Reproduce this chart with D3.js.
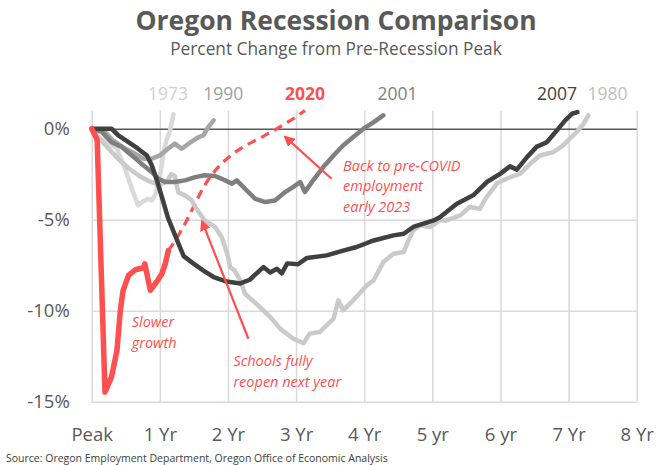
<!DOCTYPE html>
<html>
<head>
<meta charset="utf-8">
<script src="https://cdn.jsdelivr.net/npm/d3@7"></script>
<style>
  body { margin: 0; background: #fff; }
  svg { display: block; font-family: "Open Sans", sans-serif; }
</style>
</head>
<body>
<div id="chart"></div>
<script>
// [years since pre-recession peak, % change from peak]
var r1973 = [[0,0],[0.1,-0.45],[0.22,-0.74],[0.37,-1.1],[0.49,-2.2],[0.59,-3.3],[0.68,-4.2],[0.75,-4.0],[0.83,-3.85],[0.88,-3.95],[0.93,-3.66],[0.98,-3.0],[1.02,-2.2],[1.06,-1.2],[1.1,-0.6],[1.15,-0.1],[1.2,0.8]];
var r1980 = [[0,0],[0.1,-0.5],[0.25,-1.1],[0.4,-1.7],[0.55,-2.2],[0.7,-2.6],[0.85,-2.9],[1.0,-3.1],[1.1,-2.9],[1.17,-2.5],[1.22,-2.6],[1.27,-3.5],[1.37,-3.66],[1.47,-3.94],[1.52,-4.3],[1.66,-5.04],[1.81,-5.4],[1.91,-5.96],[2.0,-7.0],[2.03,-7.6],[2.1,-7.8],[2.18,-8.33],[2.25,-9.07],[2.47,-9.8],[2.62,-10.35],[2.77,-11.0],[2.96,-11.54],[3.11,-11.78],[3.2,-11.26],[3.35,-11.17],[3.45,-10.8],[3.55,-10.44],[3.62,-9.43],[3.69,-9.98],[3.84,-9.43],[4.04,-8.6],[4.14,-8.33],[4.28,-7.33],[4.43,-6.87],[4.58,-6.78],[4.65,-6.14],[4.72,-5.59],[4.82,-5.31],[4.97,-5.4],[5.11,-5.04],[5.21,-5.04],[5.41,-4.76],[5.55,-4.3],[5.7,-4.4],[5.78,-3.85],[5.95,-3.0],[6.09,-2.75],[6.29,-2.47],[6.44,-1.92],[6.58,-1.47],[6.78,-1.28],[6.92,-0.92],[7.02,-0.55],[7.12,-0.18],[7.22,0.27],[7.29,0.73]];
var r1990 = [[0,0],[0.1,-0.1],[0.2,-0.2],[0.3,-0.6],[0.45,-1.0],[0.59,-1.28],[0.76,-1.65],[0.88,-1.65],[1.0,-1.47],[1.12,-1.1],[1.22,-0.82],[1.32,-1.1],[1.47,-0.7],[1.57,-0.46],[1.64,-0.37],[1.71,0.09],[1.79,0.46]];
var r2001 = [[0,0],[0.15,-0.18],[0.29,-0.74],[0.44,-1.0],[0.59,-1.47],[0.73,-1.92],[0.88,-2.38],[0.98,-2.75],[1.08,-2.93],[1.22,-2.93],[1.37,-2.84],[1.52,-2.66],[1.66,-2.56],[1.81,-2.6],[1.96,-2.84],[2.06,-3.02],[2.13,-2.84],[2.25,-3.3],[2.4,-3.85],[2.55,-4.03],[2.69,-3.94],[2.84,-3.48],[2.96,-3.2],[3.06,-2.93],[3.13,-3.48],[3.25,-2.84],[3.4,-2.11],[3.55,-1.47],[3.69,-0.92],[3.84,-0.46],[3.99,0],[4.14,0.36],[4.28,0.73]];
var r2007 = [[0,0],[0.29,0],[0.39,-0.37],[0.54,-0.74],[0.68,-1.1],[0.81,-1.47],[0.88,-2.0],[0.95,-2.75],[1.05,-4.0],[1.12,-4.9],[1.25,-6.1],[1.35,-7.0],[1.49,-7.4],[1.64,-7.8],[1.79,-8.15],[1.98,-8.4],[2.18,-8.5],[2.32,-8.3],[2.52,-7.6],[2.62,-7.9],[2.72,-7.7],[2.79,-7.95],[2.87,-7.4],[3.03,-7.45],[3.16,-7.1],[3.45,-6.96],[3.69,-6.7],[3.89,-6.5],[4.14,-6.14],[4.43,-5.86],[4.58,-5.77],[4.72,-5.4],[5.02,-5.04],[5.11,-4.86],[5.36,-4.12],[5.6,-3.66],[5.8,-2.93],[6.0,-2.47],[6.14,-2.07],[6.24,-2.25],[6.39,-1.56],[6.53,-1.0],[6.68,-0.74],[6.83,-0.09],[6.95,0.46],[7.05,0.82],[7.13,0.91]];
var r2020 = [[0,0],[0.08,-0.6],[0.195,-14.47],[0.29,-13.65],[0.37,-12.2],[0.42,-10.0],[0.46,-8.9],[0.54,-8.06],[0.64,-7.75],[0.76,-7.64],[0.78,-7.42],[0.86,-8.88],[0.95,-8.43],[1.03,-7.97],[1.08,-7.42],[1.125,-6.7]];
var r2020proj = [[1.125,-6.7],[1.25,-6.0],[1.4,-5.0],[1.52,-4.1],[1.66,-3.1],[1.86,-2.1],[2.05,-1.45],[2.25,-0.95],[2.45,-0.55],[2.65,-0.15],[2.85,0.3],[3.0,0.65],[3.13,1.0]];

var seriesNames = ["1973", "1980", "1990", "2001", "2007", "2020"];
var seriesColors = ["#d9d9d9", "#cacaca", "#a6a6a6", "#7f7f7f", "#404040", "#ff4f4f"];
var labelColors = ["#d0d0d0", "#bfbfbf", "#a0a0a0", "#808080", "#404040", "#ff4f4f"];
var labelYears = [1.12, 7.57, 1.93, 4.49, 6.83, 3.13];

var xTicks = [0, 1, 2, 3, 4, 5, 6, 7, 8];
var xTickLabels = ["Peak", "1 Yr", "2 Yr", "3 Yr", "4 Yr", "5 yr", "6 yr", "7 Yr", "8 Yr"];
var yTicks = [0, -5, -10, -15];

var width = 672, height = 465;
var red = "#ff4f4f";

var svg = d3.select('#chart').append('svg')
    .attr('width', width)
    .attr('height', height);

var x = d3.scaleLinear().domain([0, 8]).range([91.7, 636.7]);
var y = d3.scaleLinear().domain([-15, 1]).range([401.7, 110.5]);

// titles
svg.append('text')
    .attr('x', 336).attr('y', 30)
    .attr('text-anchor', 'middle')
    .style('font-size', '26.5px').style('font-weight', 'bold')
    .attr('fill', '#595959')
    .text('Oregon Recession Comparison');
svg.append('text')
    .attr('x', 336).attr('y', 55)
    .attr('text-anchor', 'middle')
    .style('font-size', '17.3px')
    .attr('fill', '#595959')
    .text('Percent Change from Pre-Recession Peak');

// vertical gridlines + year labels
var xAxis = svg.append('g')
    .attr('transform', 'translate(0,' + y(-15) + ')')
    .call(d3.axisBottom(x)
        .tickValues(xTicks)
        .tickSize(-(y(-15) - y(1)))
        .tickPadding(26)
        .tickFormat(function (d, i) { return xTickLabels[i]; }));
xAxis.select('.domain').remove();
xAxis.selectAll('line').attr('stroke', '#d9d9d9').attr('stroke-width', 1.5);
xAxis.selectAll('text')
    .attr('fill', '#595959')
    .style('font-size', '18.5px')
    .style('font-family', '"Open Sans", sans-serif');

// horizontal gridlines + percent labels
var yAxis = svg.append('g')
    .attr('transform', 'translate(' + x(0) + ',0)')
    .call(d3.axisLeft(y)
        .tickValues(yTicks)
        .tickSize(-(x(8) - x(0)))
        .tickPadding(22)
        .tickFormat(function (d) { return d + '%'; }));
yAxis.select('.domain').remove();
yAxis.selectAll('line')
    .attr('stroke', function (d) { return d === 0 ? '#595959' : '#d9d9d9'; })
    .attr('stroke-width', 1.5);
yAxis.selectAll('text')
    .attr('fill', '#595959')
    .style('font-size', '18.5px')
    .style('font-family', '"Open Sans", sans-serif');

// recession lines
var line = d3.line()
    .x(function (d) { return x(d[0]); })
    .y(function (d) { return y(d[1]); });

var allSeries = [r1973, r1980, r1990, r2001, r2007, r2020];

svg.append('path')
    .attr('d', line.curve(d3.curveMonotoneX)(r2020proj))
    .attr('fill', 'none')
    .attr('stroke', red)
    .attr('stroke-width', 3.2)
    .attr('stroke-dasharray', '9,6');
line.curve(d3.curveLinear);

svg.selectAll('path.rec')
    .data(allSeries)
    .enter()
    .append('path')
    .attr('class', 'rec')
    .attr('d', line)
    .attr('fill', 'none')
    .attr('stroke', function (d, i) { return seriesColors[i]; })
    .attr('stroke-width', function (d, i) { return i === 5 ? 5.5 : 4.5; })
    .attr('stroke-linejoin', 'round')
    .attr('stroke-linecap', 'round');

// series labels
svg.selectAll('text.lab')
    .data(seriesNames)
    .enter()
    .append('text')
    .attr('class', 'lab')
    .attr('x', function (d, i) { return x(labelYears[i]); })
    .attr('y', y(1.6))
    .attr('text-anchor', 'middle')
    .style('font-size', '17.5px')
    .style('font-weight', function (d) { return d === '2020' ? 'bold' : 'normal'; })
    .attr('fill', function (d, i) { return labelColors[i]; })
    .text(function (d) { return d; });

// annotations
svg.append('defs').append('marker')
    .attr('id', 'arrow')
    .attr('viewBox', '0 0 10 10')
    .attr('refX', 8).attr('refY', 5)
    .attr('markerWidth', 5).attr('markerHeight', 5)
    .attr('markerUnits', 'strokeWidth')
    .attr('orient', 'auto')
    .append('path')
    .attr('d', 'M0,0L10,5L0,10z')
    .attr('fill', red);

var arrows = [
    [[3.52, -2.75], [2.84, -0.45]],
    [[2.3, -11.54], [1.62, -5.1]]
];
svg.selectAll('line.arr')
    .data(arrows)
    .enter()
    .append('line')
    .attr('class', 'arr')
    .attr('x1', function (d) { return x(d[0][0]); })
    .attr('y1', function (d) { return y(d[0][1]); })
    .attr('x2', function (d) { return x(d[1][0]); })
    .attr('y2', function (d) { return y(d[1][1]); })
    .attr('stroke', red)
    .attr('stroke-width', 2.2)
    .attr('marker-end', 'url(#arrow)');

var notes = [
    { at: [3.69, -2.32], lines: ['Back to pre-COVID', 'employment', 'early 2023'] },
    { at: [0.587, -10.9], lines: ['Slower', 'growth'] },
    { at: [2.08, -13.04], lines: ['Schools fully', 'reopen next year'] }
];
notes.forEach(function (n) {
    var t = svg.append('text')
        .attr('x', x(n.at[0]))
        .attr('y', y(n.at[1]))
        .attr('fill', red)
        .style('font-size', '14.5px')
        .style('font-style', 'italic');
    n.lines.forEach(function (s, i) {
        t.append('tspan')
            .attr('x', x(n.at[0]))
            .attr('dy', i === 0 ? 0 : 20.5)
            .text(s);
    });
});

// source
svg.append('text')
    .attr('x', 6).attr('y', 462)
    .attr('fill', '#404040')
    .style('font-size', '10.5px')
    .text('Source: Oregon Employment Department, Oregon Office of Economic Analysis');
</script>
</body>
</html>
